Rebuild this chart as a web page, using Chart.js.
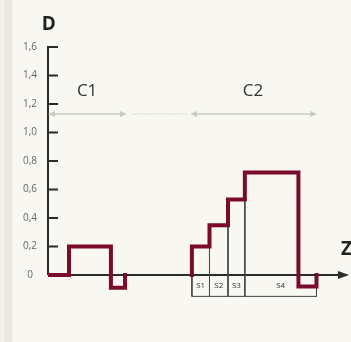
<!DOCTYPE html>
<html>
<head>
<meta charset="utf-8">
<script src="https://cdn.jsdelivr.net/npm/chart.js@4/dist/chart.umd.min.js"></script>
<style>
  html, body { margin: 0; padding: 0; }
  body {
    width: 351px; height: 342px; overflow: hidden;
    background: linear-gradient(to right, #f2f1e9 0px, #f2f1e9 4px, #e8e8dc 5px, #e8e8dc 12px, #f8f7f2 13px);
  }
  canvas { display: block; }
</style>
</head>
<body>
<canvas id="stage" width="351" height="342"></canvas>
<script>
// valeurs
var yTicks = [0, 0.2, 0.4, 0.6, 0.8, 1.0, 1.2, 1.4, 1.6];
var yTickLabels = ['0', '0,2', '0,4', '0,6', '0,8', '1,0', '1,2', '1,4', '1,6'];

// C1 : profil en escalier
var c1Z = [0, 6.98, 20.9, 25.6];
var c1D = [0, 0.2, -0.09, 0];

// C2 : profil en escalier
var c2Z = [47.8, 47.8, 53.65, 59.8, 65.4, 83.2, 89.2];
var c2D = [0, 0.2, 0.35, 0.53, 0.72, -0.08, 0];

// cases S1..S4 sous l'axe
var sEdges = [47.8, 53.65, 59.8, 65.4, 89.2];
var sTops = [0, 0.35, 0.53, 0.72, -0.08];
var sNames = ['S1', 'S2', 'S3', 'S4'];
var sBottom = -0.15;
var sLabelLevel = -0.075;

// fleches C1 / C2
var arrowLevel = 1.13;
var c1Span = [0, 26.2];
var dotSpan = [27.9, 46.2];
var c2Span = [47.2, 89.4];
var zoneNames = ['C1', 'C2'];
var zoneLabelZ = [13, 68.1];
var zoneLabelD = 1.29;

var zMax = 100;

function pts(zs, ds) {
  var out = [];
  for (var i = 0; i < zs.length; i++) out.push({x: zs[i], y: ds[i]});
  return out;
}

var redData = pts(c1Z, c1D).concat([{x: 36, y: null}]).concat(pts(c2Z, c2D));

var boxData = [];
for (var i = 0; i < sEdges.length; i++) {
  boxData.push({x: sEdges[i], y: sTops[i]});
  boxData.push({x: sEdges[i], y: sBottom});
  boxData.push({x: sEdges[i], y: null});
}
boxData.push({x: sEdges[0], y: sBottom});
boxData.push({x: sEdges[sEdges.length - 1], y: sBottom});

function arrowHead(ctx, x, y, dir, len, half) {
  ctx.beginPath();
  ctx.moveTo(x, y);
  ctx.lineTo(x - dir * len, y - half);
  ctx.lineTo(x - dir * len, y + half);
  ctx.closePath();
  ctx.fill();
}

var decor = {
  id: 'decor',
  beforeDatasetsDraw: function(chart) {
    var ctx = chart.ctx;
    var xs = chart.scales.x, ys = chart.scales.y;
    var x0 = xs.getPixelForValue(0);
    var y0 = ys.getPixelForValue(0);
    ctx.save();
    // axe D
    ctx.strokeStyle = '#2b2b2b';
    ctx.lineWidth = 2;
    ctx.beginPath();
    ctx.moveTo(x0, y0);
    ctx.lineTo(x0, ys.getPixelForValue(yTicks[yTicks.length - 1]) - 1);
    ctx.stroke();
    // graduations vers l'interieur
    for (var i = 1; i < yTicks.length; i++) {
      var ty = ys.getPixelForValue(yTicks[i]);
      ctx.beginPath();
      ctx.moveTo(x0, ty);
      ctx.lineTo(x0 + 10, ty);
      ctx.stroke();
    }
    // axe Z avec fleche
    var xEnd = xs.getPixelForValue(zMax);
    ctx.beginPath();
    ctx.moveTo(x0, y0);
    ctx.lineTo(xEnd - 8, y0);
    ctx.stroke();
    ctx.fillStyle = '#2b2b2b';
    arrowHead(ctx, xEnd, y0, 1, 11, 4);

    // fleches C1 / C2
    var ay = ys.getPixelForValue(arrowLevel);
    ctx.strokeStyle = '#c9ccc0';
    ctx.fillStyle = '#c9ccc0';
    ctx.lineWidth = 1.5;
    [c1Span, c2Span].forEach(function(sp) {
      var a = xs.getPixelForValue(sp[0]), b = xs.getPixelForValue(sp[1]);
      ctx.beginPath();
      ctx.moveTo(a + 4, ay);
      ctx.lineTo(b - 4, ay);
      ctx.stroke();
      arrowHead(ctx, a, ay, -1, 7, 3);
      arrowHead(ctx, b, ay, 1, 7, 3);
    });
    ctx.setLineDash([1.5, 1.5]);
    ctx.lineWidth = 1;
    ctx.beginPath();
    ctx.moveTo(xs.getPixelForValue(dotSpan[0]), ay);
    ctx.lineTo(xs.getPixelForValue(dotSpan[1]), ay);
    ctx.stroke();
    ctx.restore();
  },
  afterDraw: function(chart) {
    var ctx = chart.ctx;
    var xs = chart.scales.x, ys = chart.scales.y;
    ctx.save();
    ctx.textAlign = 'center';
    ctx.textBaseline = 'middle';
    // etiquettes D
    ctx.fillStyle = '#666';
    ctx.font = '10px "Open Sans", sans-serif';
    for (var i = 0; i < yTicks.length; i++) {
      ctx.fillText(yTickLabels[i], 30, ys.getPixelForValue(yTicks[i]));
    }
    // titres des axes
    ctx.fillStyle = '#222';
    ctx.font = 'bold 19px "Open Sans", sans-serif';
    ctx.fillText('D', xs.getPixelForValue(0.3), ys.getPixelForValue(1.76));
    ctx.fillText('Z', xs.getPixelForValue(99.2), ys.getPixelForValue(0.175));
    // C1 / C2
    ctx.fillStyle = '#333';
    ctx.font = '17px "Open Sans", sans-serif';
    for (var j = 0; j < zoneNames.length; j++) {
      ctx.fillText(zoneNames[j], xs.getPixelForValue(zoneLabelZ[j]), ys.getPixelForValue(zoneLabelD));
    }
    // S1..S4
    ctx.font = '8px "Open Sans", sans-serif';
    for (var k = 0; k < sNames.length; k++) {
      var mid = (sEdges[k] + sEdges[k + 1]) / 2;
      ctx.fillText(sNames[k], xs.getPixelForValue(mid), ys.getPixelForValue(sLabelLevel));
    }
    ctx.restore();
  }
};

var chart = new Chart(document.getElementById('stage'), {
  type: 'line',
  data: {
    datasets: [{
      data: redData,
      stepped: 'before',
      borderColor: '#7a0b2b',
      borderWidth: 4,
      borderCapStyle: 'square',
      borderJoinStyle: 'miter',
      pointRadius: 0,
      spanGaps: false,
      fill: false,
      order: 0
    }, {
      data: boxData,
      borderColor: '#444',
      borderWidth: 1,
      pointRadius: 0,
      spanGaps: false,
      fill: false,
      order: 1
    }]
  },
  options: {
    responsive: false,
    animation: false,
    layout: { padding: { left: 48, right: 2, top: 32.75, bottom: 38.5 } },
    plugins: { legend: { display: false }, tooltip: { enabled: false } },
    scales: {
      x: { type: 'linear', min: 0, max: zMax, display: false },
      y: { min: -0.2, max: 1.7, display: false }
    }
  },
  plugins: [decor]
});
</script>
</body>
</html>
